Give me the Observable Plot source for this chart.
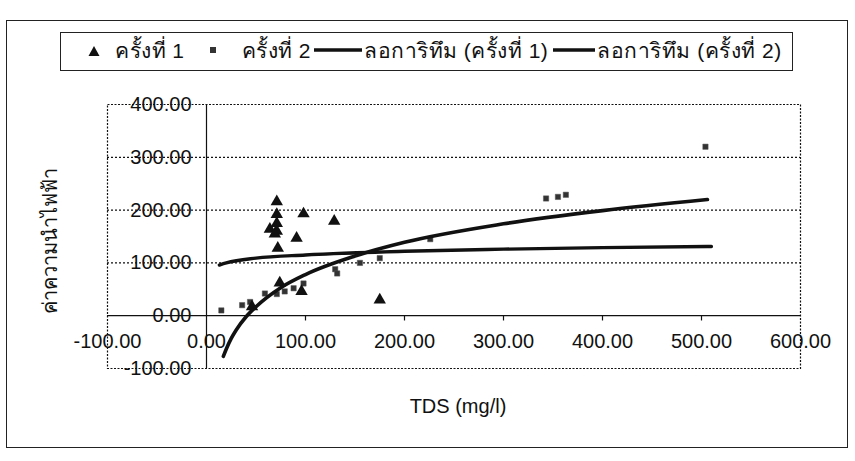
<!DOCTYPE html>
<html>
<head>
<meta charset="utf-8">
<script src="https://cdn.jsdelivr.net/npm/d3@7"></script>
<script src="https://cdn.jsdelivr.net/npm/@observablehq/plot@0.6"></script>
<style>
  html, body { margin: 0; padding: 0; background: #fff; }
  #wrap { position: relative; width: 855px; height: 461px; overflow: hidden;
          font-family: "Liberation Sans", Arial, "DejaVu Sans", sans-serif; color: #111; }
  #frame { position: absolute; left: 6px; top: 20px; width: 842px; height: 428px; border: 1.5px solid #222; box-sizing: border-box; }
  #legend { position: absolute; left: 60px; top: 32px; height: 39px; border: 1.5px solid #222; box-sizing: border-box;
            background: #fff; display: flex; align-items: center; padding: 0 10px 3px 26px; font-size: 21px;
            letter-spacing: 0.5px; white-space: nowrap; }
  #legend svg { display: block; flex: none; }
  #chart { position: absolute; left: 0; top: 0; }
</style>
</head>
<body>
<div id="wrap">
  <div id="frame"></div>
  <div id="chart"></div>
  <div id="legend"></div>
</div>
<script>
// ---- data ----
const series1Name = "ครั้งที่ 1";
const series2Name = "ครั้งที่ 2";
const trend1Name = "ลอการิทึม (ครั้งที่ 1)";
const trend2Name = "ลอการิทึม (ครั้งที่ 2)";
const xTitle = "TDS (mg/l)";
const yTitle = "ค่าความนำไฟฟ้า";

const s1X = [71, 71, 98, 71, 64, 71, 69, 91, 72, 129, 74, 96, 175, 46];
const s1Y = [216, 192, 193, 175, 164, 160, 155, 147, 128, 179, 62, 46, 30, 17];

const s2X = [15, 36, 44, 59, 71, 79, 88, 98, 130, 132, 155, 175, 226, 343, 355, 363, 504];
const s2Y = [10, 20, 26, 42, 41, 46, 52, 61, 88, 80, 100, 109, 145, 222, 225, 229, 320];

const t1X = [13, 20, 50, 100, 200, 300, 400, 510];
const t1Y = [96, 100, 109, 115, 122, 126, 129, 131];

const t2X = [17, 20, 25, 30, 40, 50, 75, 100, 150, 200, 300, 400, 506];
const t2Y = [-77, -63, -43, -27, -2, 17, 53, 78, 113, 139, 174, 199, 220];

const xTicks = [-100, 0, 100, 200, 300, 400, 500, 600];
const yTicks = [-100, 0, 100, 200, 300, 400];
const yGrid = [100, 200, 300];

// ---- tables ----
const s1 = s1X.map((x, i) => ({x, y: s1Y[i]}));
const s2 = s2X.map((x, i) => ({x, y: s2Y[i]}));
const t1 = t1X.map((x, i) => ({x, y: t1Y[i]}));
const t2 = t2X.map((x, i) => ({x, y: t2Y[i]}));
const fmt = d => d.toFixed(2);
const FONT = "Liberation Sans, Arial, sans-serif";

const chart = Plot.plot({
  width: 855,
  height: 461,
  marginLeft: 107,
  marginRight: 55,
  marginTop: 104,
  marginBottom: 93,
  style: {fontFamily: FONT, background: "transparent", overflow: "visible"},
  x: {domain: [-100, 600], axis: null},
  y: {domain: [-100, 400], axis: null},
  marks: [
    Plot.ruleY(yGrid, {y: d => d, stroke: "#111", strokeWidth: 1.2, strokeDasharray: "2,2"}),
    Plot.frame({stroke: "#111", strokeWidth: 1.2, strokeDasharray: "2,1.5"}),
    Plot.ruleX([0], {x: d => d, stroke: "#111", strokeWidth: 1.2}),
    Plot.ruleY([0], {y: d => d, stroke: "#111", strokeWidth: 1.2}),
    Plot.ruleX(xTicks.filter(d => d > -100 && d < 600 && d !== 0), {x: d => d, y1: 0, y2: -10, stroke: "#111", strokeWidth: 1.2}),
    Plot.text(yTicks, {x: 0, y: d => d, text: fmt, textAnchor: "end", dx: -15, fontSize: 20, fill: "#111"}),
    Plot.text(xTicks, {x: d => d, y: 0, text: fmt, dy: 26, fontSize: 20, fill: "#111"}),
    Plot.dot(s2, {x: "x", y: "y", symbol: "square", r: 3, fill: "#333", stroke: "#555", strokeWidth: 0.5}),
    Plot.dot(s1, {x: "x", y: "y", symbol: "triangle", r: 4.6, fill: "#111"}),
    Plot.line(t1, {x: "x", y: "y", curve: "monotone-x", stroke: "#111", strokeWidth: 3.4}),
    Plot.line(t2, {x: "x", y: "y", curve: "monotone-x", stroke: "#111", strokeWidth: 3.6})
  ]
});
document.getElementById("chart").appendChild(chart);

// axis titles as SVG text
const svg = d3.select(chart);
svg.append("text").attr("x", 458).attr("y", 413).attr("text-anchor", "middle")
  .attr("font-size", 20).attr("font-family", FONT).attr("fill", "#111").text(xTitle);
svg.append("text").attr("transform", "translate(57,241) rotate(-90)").attr("text-anchor", "middle")
  .attr("font-size", 20).attr("font-family", FONT).attr("fill", "#111").text(yTitle);

// legend
const legend = document.getElementById("legend");
function add(html, ml) {
  const t = document.createElement("template");
  t.innerHTML = html.trim();
  const el = t.content.firstChild;
  el.style.marginLeft = ml + "px";
  legend.appendChild(el);
}
add(`<svg width="14" height="14"><path d="M7,3 L12.5,13 L1.5,13 Z" fill="#111"/></svg>`, 0);
add(`<span>${series1Name}</span>`, 14);
add(`<svg width="8" height="8"><rect x="1" y="1" width="6" height="6" fill="#333"/></svg>`, 24);
add(`<span>${series2Name}</span>`, 25);
add(`<svg width="48" height="6"><line x1="0" y1="3" x2="48" y2="3" stroke="#111" stroke-width="3.4"/></svg>`, 3);
add(`<span>${trend1Name}</span>`, 2);
add(`<svg width="42" height="6"><line x1="0" y1="3" x2="42" y2="3" stroke="#111" stroke-width="3.4"/></svg>`, 5);
add(`<span>${trend2Name}</span>`, 2);
</script>
</body>
</html>
